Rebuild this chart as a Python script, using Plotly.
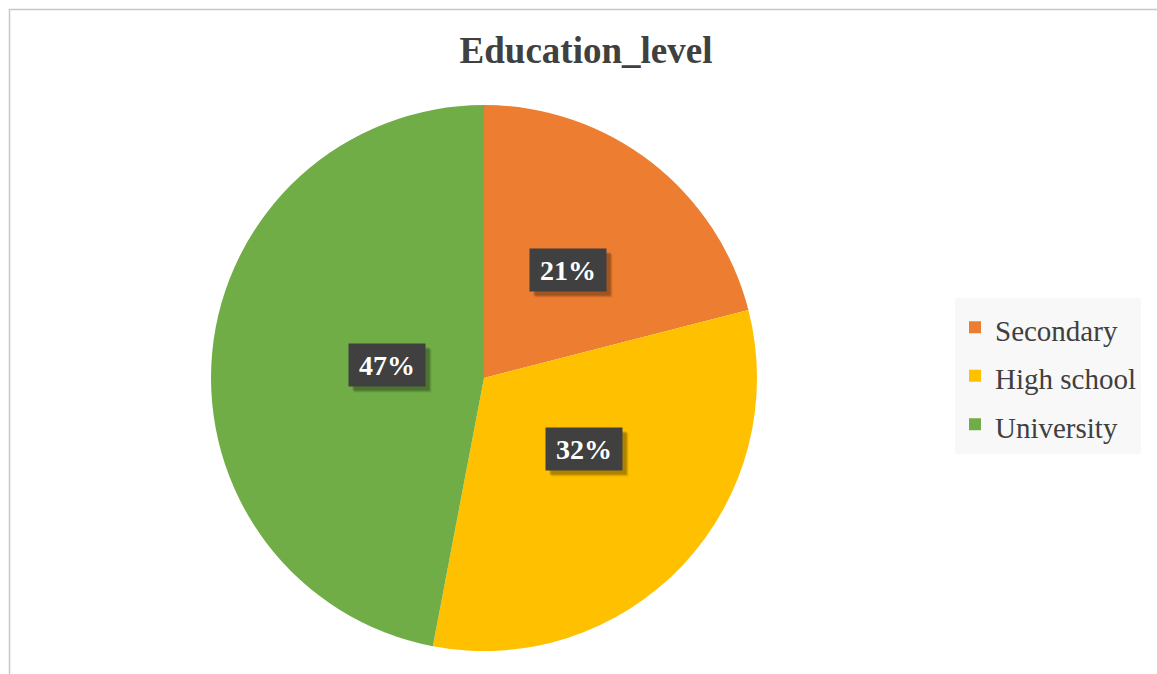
import math
import plotly.graph_objects as go

categories = ["Secondary", "High school", "University"]
values = [21, 32, 47]
colors = ["#ED7D31", "#FFC000", "#70AD47"]
title_text = "Education_level"

W, H = 1157, 674
# pie geometry in pixels (domain)
cx, cy, R = 484, 378, 273
dom_x = [(cx - R) / W, (cx + R) / W]
dom_y = [(H - (cy + R)) / H, (H - (cy - R)) / H]

legend_labels = [f'<span style="font-size:29px">{c}</span>' for c in categories]

fig = go.Figure()
fig.add_trace(go.Pie(
    labels=legend_labels,
    values=values,
    sort=False,
    direction="clockwise",
    rotation=0,
    marker=dict(colors=colors, line=dict(width=0)),
    textinfo="none",
    hoverinfo="percent",
    domain=dict(x=dom_x, y=dom_y),
))

# data labels: boxes at half radius on the mid-angle of each slice
total = sum(values)
cum = 0
annotations = []
for v in values:
    mid = (cum + v / 2) / total * 2 * math.pi
    cum += v
    lx = cx + 0.5 * R * math.sin(mid)
    ly = cy - 0.5 * R * math.cos(mid)
    px_, py_ = lx / W, 1 - ly / H
    pct = f"{round(v / total * 100)}%"
    # soft shadow
    for s, a in [(6, 0.08), (5, 0.12), (4, 0.16)]:
        annotations.append(dict(
            x=px_, y=py_, xref="paper", yref="paper", text="",
            showarrow=False, width=76, height=42, borderpad=0,
            bgcolor=f"rgba(0,0,0,{a})", xshift=s, yshift=-s,
        ))
    annotations.append(dict(
        x=px_, y=py_, xref="paper", yref="paper", text=f"<b>{pct}</b>",
        showarrow=False, width=76, height=42, borderpad=0,
        bgcolor="#404040",
        font=dict(family="Liberation Serif", size=28, color="white"),
    ))

fig.update_layout(
    width=W, height=H,
    margin=dict(l=0, r=0, t=0, b=0),
    paper_bgcolor="white",
    title=dict(
        text=f"<b>{title_text}</b>",
        x=586 / W, xanchor="center",
        y=1 - 50 / H, yanchor="middle",
        font=dict(family="Liberation Serif", size=37, color="#404040"),
    ),
    legend=dict(
        x=955 / W, xanchor="left",
        y=1 - 298 / H, yanchor="top",
        bgcolor="#F8F8F8",
        font=dict(family="Liberation Serif", size=35, color="#404040"),
        traceorder="normal",
    ),
    annotations=annotations,
    shapes=[dict(
        type="rect", xref="paper", yref="paper",
        x0=9.5 / W, x1=1.05, y0=-0.05, y1=1 - 9.5 / H,
        line=dict(color="#C8C8C8", width=1.5), fillcolor="rgba(0,0,0,0)",
        layer="below",
    )],
)

fig.write_html("out.html", config={"displayModeBar": False},
               post_script="document.body.style.margin='0';")
